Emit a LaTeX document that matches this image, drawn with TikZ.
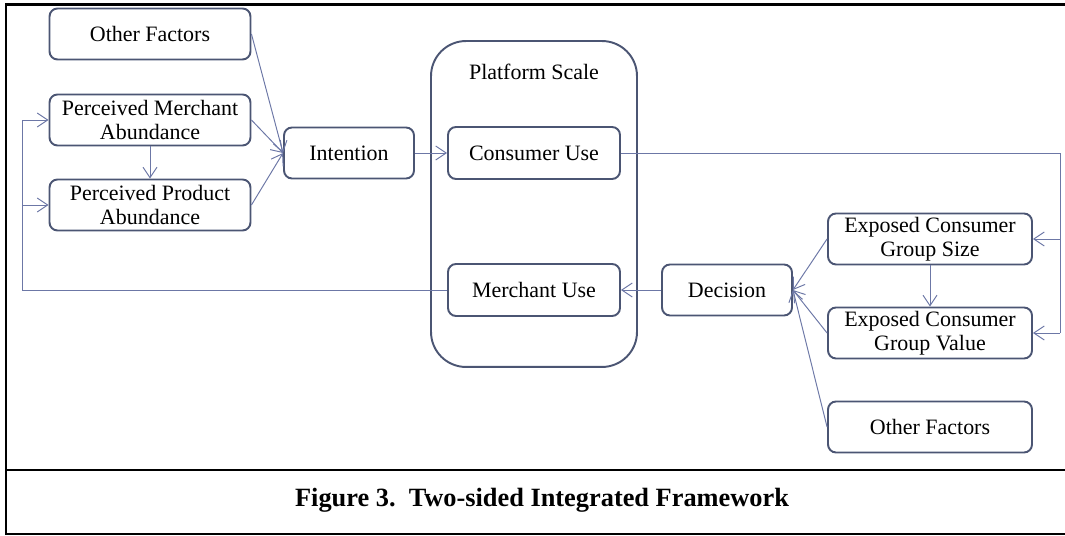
\documentclass[tikz,border=0pt]{standalone}
\usepackage{fontspec}
\setmainfont{Liberation Serif}
\usepackage{tikz}
\usetikzlibrary{arrows.meta,positioning}
\usepackage{xcolor}
\definecolor{boxline}{HTML}{4B5573}
\definecolor{linkline}{HTML}{6C77A6}

\begin{document}
\begin{tikzpicture}[
      x=0.02cm, y=-0.02cm,
      factor/.style={draw=boxline, line width=1.1pt, rounded corners=0.16cm, align=center,
        minimum height=1.02cm, inner sep=1pt, font=\fontsize{12.5}{13.6}\selectfont},
      wide/.style={factor, minimum width=4.02cm},
      short/.style={factor, minimum width=2.6cm},
      use/.style={factor, minimum width=3.44cm, minimum height=1.04cm},
      link/.style={draw=linkline, line width=0.55pt, -{Straight Barb[length=2.1mm,width=2.8mm]}},
      plain/.style={draw=linkline, line width=0.55pt},
      frame/.style={draw=black, line width=1.7pt}
    ]
    \useasboundingbox (0,0) rectangle (1065,536);
    % outer frame and caption
    \draw[frame] (1070,5) -- (6,5) -- (6,534) -- (1070,534);
    \draw[frame] (6,470) -- (1070,470);
    \node[font=\fontsize{15}{17}\selectfont\bfseries] (cap) at (542,500) {Figure 3.\ \ Two-sided Integrated Framework};
    % platform scale
    \node[draw=boxline, line width=1.1pt, rounded corners=0.7cm, minimum width=4.12cm, minimum height=6.52cm] (ps) at (534,204) {};
    \node[font=\fontsize{12.5}{13.6}\selectfont] (pst) at (534,72) {Platform Scale};
    % consumer side
    \node[wide] (of1) at (150,34) {Other Factors};
    \node[wide] (pma) at (150,120) {Perceived Merchant\\Abundance};
    \node[wide] (ppa) at (150,205) {Perceived Product\\Abundance};
    \node[short] (int) at (349,153) {Intention};
    \node[use] (cu) at (534,153) {Consumer Use};
    % merchant side
    \node[use] (mu) at (534,290) {Merchant Use};
    \node[short] (dec) at (727,290) {Decision};
    \node[wide, minimum width=4.08cm] (ecs) at (930,239) {Exposed Consumer\\Group Size};
    \node[wide, minimum width=4.08cm] (ecv) at (930,333) {Exposed Consumer\\Group Value};
    \node[wide, minimum width=4.08cm] (of2) at (930,427) {Other Factors};
    % links
    \draw[link] (of1.east) -- (int.west);
    \draw[link] (pma.east) -- (int.west);
    \draw[link] (ppa.east) -- (int.west);
    \draw[link] (pma.south) -- (ppa.north);
    \draw[link] (int.east) -- (cu.west);
    \draw[plain] (cu.east) -- (1060,153) coordinate (cr) -- (1060,333) coordinate (crb);
    \draw[link] (cr |- ecs.east) -- (ecs.east);
    \draw[link] (crb) -- (ecv.east);
    \draw[link] (ecs.south) -- (ecv.north);
    \draw[link] (ecs.west) -- (dec.east);
    \draw[link] (ecv.west) -- (dec.east);
    \draw[link] (of2.west) -- (dec.east);
    \draw[link] (dec.west) -- (mu.east);
    \draw[plain] (mu.west) -- (22,290) coordinate (ml) -- (22,120) coordinate (mlt);
    \draw[link] (mlt) -- (pma.west);
    \draw[link] (ml |- ppa.west) -- (ppa.west);
  \end{tikzpicture}
\end{document}
